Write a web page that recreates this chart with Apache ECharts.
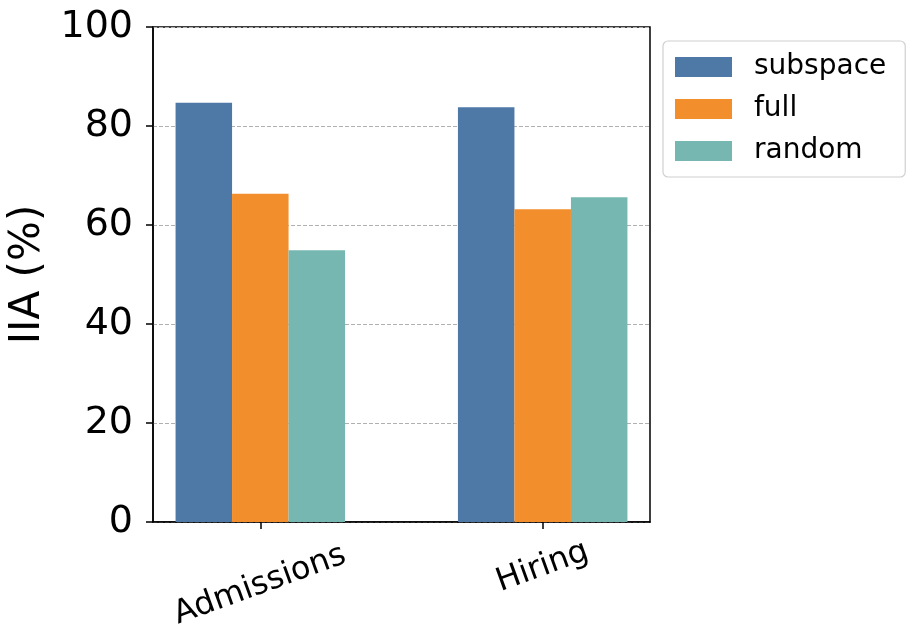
<!DOCTYPE html>
<html>
<head>
<meta charset="utf-8">
<script src="https://cdn.jsdelivr.net/npm/echarts@6/dist/echarts.min.js"></script>
<style>html,body{margin:0;padding:0;background:#fff;}#c{width:914px;height:642px;}</style>
</head>
<body>
<div id="c"></div>
<script>
const categories = ['Admissions', 'Hiring'];
const seriesNames = ['subspace', 'full', 'random'];
const subspace = [84.7, 83.8];
const full = [66.3, 63.2];
const random = [54.9, 65.6];
const yTicks = [0, 20, 40, 60, 80, 100];

const colors = ['#4e79a7', '#f28e2b', '#76b7b2'];
const values = [subspace, full, random];
const font = 'DejaVu Sans';

const chart = echarts.init(document.getElementById('c'), null, {renderer: 'canvas'});
chart.setOption({
  animation: false,
  backgroundColor: '#fff',
  textStyle: {fontFamily: font, color: '#000'},
  grid: {left: 153, right: 264, top: 27, bottom: 120, outerBoundsMode: 'none', containLabel: false,
         show: true, borderColor: '#000', borderWidth: 1.5, backgroundColor: 'transparent'},
  legend: {
    orient: 'vertical', left: 663, top: 41,
    data: seriesNames,
    icon: 'rect', itemWidth: 57, itemHeight: 20, itemGap: 14,
    padding: [12, 19, 12, 12],
    borderColor: '#d0d0d0', borderWidth: 1.2, borderRadius: 5,
    textStyle: {fontSize: 28, fontFamily: font, color: '#000', padding: [0, 0, 0, 17]}
  },
  xAxis: {
    type: 'value', min: -0.38, max: 1.38,
    splitLine: {show: false},
    axisLine: {show: true, onZero: false, lineStyle: {color: '#000', width: 1.5}},
    axisTick: {show: true, customValues: [0, 1], length: 7, lineStyle: {color: '#000', width: 1.5}},
    axisLabel: {
      customValues: [0, 1], rotate: 20, align: 'center', verticalAlign: 'middle', margin: 45,
      fontSize: 32, fontFamily: font, color: '#000',
      formatter: v => { const i = Math.round(v); return i === 0 ? '{a|' + categories[i] + '}' : '{b|' + categories[i] + '}'; },
      rich: {a: {fontSize: 32, fontFamily: font, padding: [34, 13, 0, 0]}, b: {fontSize: 32, fontFamily: font}}
    }
  },
  yAxis: {
    type: 'value', min: yTicks[0], max: yTicks[yTicks.length - 1], interval: 20,
    name: 'IIA (%)', nameLocation: 'middle', nameGap: 89, nameRotate: 90,
    nameTextStyle: {fontSize: 42, fontFamily: font, color: '#000'},
    axisLine: {show: true, onZero: false, lineStyle: {color: '#000', width: 1.5}},
    axisTick: {show: true, length: 7, lineStyle: {color: '#000', width: 1.5}},
    axisLabel: {fontSize: 38, fontFamily: font, color: '#000', margin: 20},
    splitLine: {show: true, lineStyle: {color: '#b0b0b0', type: [4, 2], width: 1}}
  },
  series: seriesNames.map((n, s) => ({
    name: n, type: 'bar',
    itemStyle: {color: colors[s]},
    barWidth: 56.5, barGap: '0%',
    data: values[s].map((v, i) => [i, v])
  }))
});
</script>
</body>
</html>
